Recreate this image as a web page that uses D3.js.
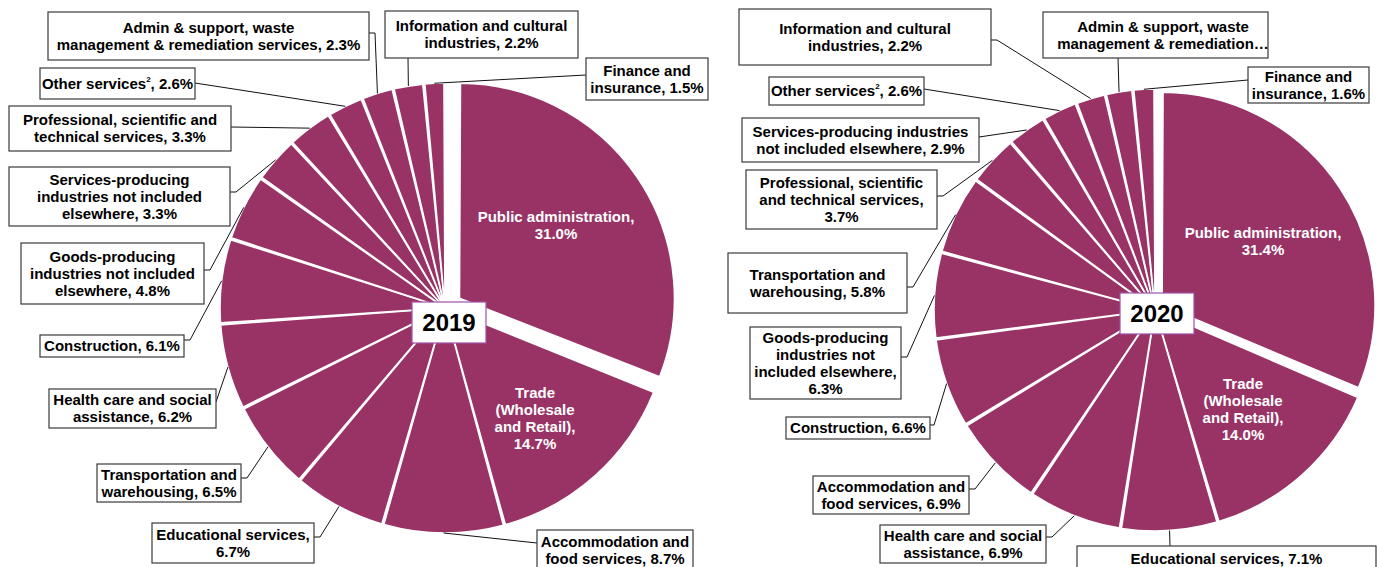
<!DOCTYPE html>
<html><head><meta charset="utf-8">
<script src="https://cdn.jsdelivr.net/npm/d3@7"></script>
<style>
html,body{margin:0;padding:0;background:#fff;}
svg{display:block;font-family:"Liberation Sans",Arial,sans-serif;}
</style></head><body>
<svg id="chart" width="1377" height="567"></svg>
<script>
// ---------- DATA ----------
const years = ["2019", "2020"];

const categories2019 = [
  "Public administration", "Trade (Wholesale and Retail)", "Accommodation and food services",
  "Educational services", "Transportation and warehousing", "Health care and social assistance",
  "Construction", "Goods-producing industries not included elsewhere",
  "Services-producing industries not included elsewhere", "Professional, scientific and technical services",
  "Other services", "Admin & support, waste management & remediation services",
  "Information and cultural industries", "Finance and insurance"
];
const values2019 = [31.0, 14.7, 8.7, 6.7, 6.5, 6.2, 6.1, 4.8, 3.3, 3.3, 2.6, 2.3, 2.2, 1.5];
const labels2019 = [
  ["Public administration,", "{v}"],
  ["Trade", "(Wholesale", "and Retail),", "{v}"],
  ["Accommodation and", "food services, {v}"],
  ["Educational services,", "{v}"],
  ["Transportation and", "warehousing, {v}"],
  ["Health care and social", "assistance, {v}"],
  ["Construction, {v}"],
  ["Goods-producing", "industries not included", "elsewhere, {v}"],
  ["Services-producing", "industries not included", "elsewhere, {v}"],
  ["Professional, scientific and", "technical services, {v}"],
  ["Other services^2, {v}"],
  ["Admin & support, waste", "management & remediation services, {v}"],
  ["Information and cultural", "industries, {v}"],
  ["Finance and", "insurance, {v}"]
];

const categories2020 = [
  "Public administration", "Trade (Wholesale and Retail)", "Educational services",
  "Health care and social assistance", "Accommodation and food services", "Construction",
  "Goods-producing industries not included elsewhere", "Transportation and warehousing",
  "Professional, scientific and technical services", "Services-producing industries not included elsewhere",
  "Other services", "Information and cultural industries",
  "Admin & support, waste management & remediation services", "Finance and insurance"
];
const values2020 = [31.4, 14.0, 7.1, 6.9, 6.9, 6.6, 6.3, 5.8, 3.7, 2.9, 2.6, 2.2, 2.0, 1.6];
const labels2020 = [
  ["Public administration,", "{v}"],
  ["Trade", "(Wholesale", "and Retail),", "{v}"],
  ["Educational services, {v}"],
  ["Health care and social", "assistance, {v}"],
  ["Accommodation and", "food services, {v}"],
  ["Construction, {v}"],
  ["Goods-producing", "industries not", "included elsewhere,", "{v}"],
  ["Transportation and", "warehousing, {v}"],
  ["Professional, scientific", "and technical services,", "{v}"],
  ["Services-producing industries", "not included elsewhere, {v}"],
  ["Other services^2, {v}"],
  ["Information and cultural", "industries, {v}"],
  ["Admin & support, waste", "management & remediation…"],
  ["Finance and", "insurance, {v}"]
];

// ---------- LAYOUT ----------
const layouts = [
  { cx: 445, cy: 308, r: 225, explode: 17.5, rEx: 215, yearBox: [412, 302, 74, 41],
    labels: [
      { inside: [556, 222] },
      { inside: [535, 398] },
      { box: [537, 530, 156, 41], a: [537, 543] },
      { box: [152, 523, 162, 40], a: [314, 537], e: [320, 537] },
      { box: [97, 464, 144, 38], a: [241, 478], e: [247, 478] },
      { box: [49, 389, 167, 39], a: [216, 402] },
      { box: [40, 335, 144, 22], a: [184, 340], e: [190, 340] },
      { box: [21, 243, 183, 61], a: [204, 270], e: [210, 270] },
      { box: [9, 167, 221, 59], a: [230, 192], e: [236, 192] },
      { box: [9, 106, 222, 45], a: [231, 127] },
      { box: [40, 68, 155, 31], a: [195, 83] },
      { box: [48, 12, 321, 48], a: [369, 33], e: [375, 33] },
      { box: [385, 11, 193, 47], a: [408, 58] },
      { box: [586, 58, 122, 42], a: [586, 75] }
    ] },
  { cx: 1155, cy: 310, r: 221, explode: 8.5, rEx: 213, yearBox: [1120, 293, 74, 41],
    labels: [
      { inside: [1263, 238] },
      { inside: [1243, 389] },
      { box: [1077, 546, 299, 25], a: [1170, 546] },
      { box: [880, 525, 166, 38], a: [1046, 537], e: [1052, 537] },
      { box: [813, 476, 156, 38], a: [969, 489], e: [975, 489] },
      { box: [786, 417, 144, 22], a: [930, 425], e: [934, 425] },
      { box: [750, 327, 151, 72], a: [901, 357], e: [907, 357] },
      { box: [728, 253, 179, 60], a: [907, 287], e: [913, 287] },
      { box: [746, 170, 191, 59], a: [937, 196], e: [943, 196] },
      { box: [742, 118, 237, 44], a: [979, 137] },
      { box: [769, 77, 155, 28], a: [924, 89] },
      { box: [739, 9, 252, 56], a: [991, 40], e: [997, 40] },
      { box: [1043, 12, 225, 46], a: [1118, 58], tx: 1163 },
      { box: [1248, 67, 121, 36], a: [1248, 80] }
    ] }
];

const datasets = [
  { cats: categories2019, vals: values2019, labels: labels2019 },
  { cats: categories2020, vals: values2020, labels: labels2020 }
];

// ---------- DRAW ----------
const svg = d3.select("#chart");
const fmt = v => d3.format(".1f")(v) + "%";
const FILL = "#993366";
const FS = 15, LH = 17;
const shrink = 0.0045;

function addLine(textSel, str, x, y) {
  const t = textSel.append("tspan").attr("x", x).attr("y", y);
  const parts = str.split("^2");
  if (parts.length === 1) { t.text(str); return; }
  t.text(parts[0]);
  textSel.append("tspan").attr("font-size", 8).attr("dy", -7).text("2");
  textSel.append("tspan").attr("dy", 7).text(parts[1]);
}

datasets.forEach((ds, k) => {
  const L = layouts[k];
  const data = ds.cats.map((c, i) => ({ cat: c, value: ds.vals[i], lines: ds.labels[i] }));
  const pie = d3.pie().sort(null).value(d => d.value).startAngle(0).endAngle(2 * Math.PI);
  const arcs = pie(data);

  const g = svg.append("g");
  const slice = d3.arc().innerRadius(0)
    .startAngle(d => d.startAngle + shrink).endAngle(d => d.endAngle - shrink);
  const edge = d3.arc().innerRadius(L.r).outerRadius(L.r);

  g.selectAll("path.slice").data(arcs).join("path")
    .attr("class", "slice")
    .attr("d", (d, i) => slice.outerRadius(i === 0 ? L.rEx : L.r)(d))
    .attr("transform", (d, i) => {
      const mid = (d.startAngle + d.endAngle) / 2;
      const off = i === 0 ? L.explode : 0;
      return `translate(${L.cx + off * Math.sin(mid)},${L.cy - off * Math.cos(mid)})`;
    })
    .attr("fill", FILL)
    .attr("stroke", "#fff")
    .attr("stroke-width", 1.6)
    .attr("stroke-linejoin", "round");

  const val = d => fmt(d.data.value);

  // leaders
  arcs.forEach((d, i) => {
    const lay = L.labels[i];
    if (!lay.box) return;
    const c = edge.centroid(d);
    const pts = [lay.a];
    if (lay.e) pts.push(lay.e);
    pts.push([L.cx + c[0], L.cy + c[1]]);
    g.append("path").attr("d", d3.line()(pts))
      .attr("fill", "none").attr("stroke", "#111").attr("stroke-width", 1);
  });

  // label boxes
  arcs.forEach((d, i) => {
    const lay = L.labels[i];
    const lines = d.data.lines.map(s => s.replace("{v}", val(d)));
    if (lay.inside) {
      const t = g.append("text").attr("text-anchor", "middle")
        .attr("font-size", FS).attr("font-weight", "bold").attr("fill", "#fff");
      lines.forEach((s, j) => addLine(t, s, lay.inside[0], lay.inside[1] + j * LH));
      return;
    }
    const [bx, by, bw, bh] = lay.box;
    g.append("rect").attr("x", bx).attr("y", by).attr("width", bw).attr("height", bh)
      .attr("fill", "#fff").attr("stroke", "#3a3a3a").attr("stroke-width", 1.2);
    const tx = lay.tx !== undefined ? lay.tx : bx + bw / 2;
    const cy = by + bh / 2;
    const y0 = cy - (lines.length - 1) * LH / 2 + 5.25;
    const t = g.append("text").attr("text-anchor", "middle")
      .attr("font-size", FS).attr("font-weight", "bold").attr("fill", "#000");
    lines.forEach((s, j) => addLine(t, s, tx, y0 + j * LH));
  });

  // year box
  const [yx, yy, yw, yh] = L.yearBox;
  g.append("rect").attr("x", yx).attr("y", yy).attr("width", yw).attr("height", yh)
    .attr("fill", "#fff").attr("stroke", "#a050a8").attr("stroke-width", 1.2);
  g.append("text").attr("x", yx + yw / 2).attr("y", yy + yh / 2 + 8.5)
    .attr("text-anchor", "middle").attr("font-size", 24).attr("font-weight", "bold")
    .attr("fill", "#000").text(years[k]);
});
</script>
</body></html>
